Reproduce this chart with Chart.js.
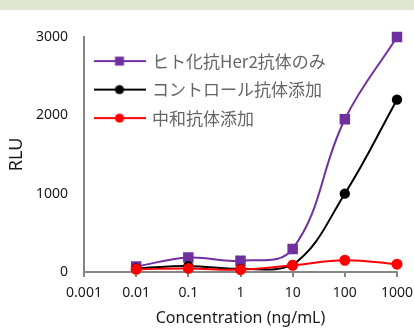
<!DOCTYPE html>
<html>
<head>
<meta charset="utf-8">
<script src="https://cdn.jsdelivr.net/npm/chart.js@4.4.1/dist/chart.umd.min.js"></script>
<style>
  html, body { margin: 0; padding: 0; background: #fff; }
</style>
</head>
<body>
<canvas id="chartjs" width="414" height="334"></canvas>
<script>
// concentrations (ng/mL) and RLU readings
const concentrations = [0.01, 0.1, 1, 10, 100, 1000];
const xTickValues = [0.001, 0.01, 0.1, 1, 10, 100, 1000];
const herOnly = [70, 185, 145, 295, 1950, 3000];
const controlAb = [45, 75, 40, 90, 1000, 2200];
const neutralAb = [35, 45, 30, 85, 150, 100];
const seriesNames = ['ヒト化抗Her2抗体のみ', 'コントロール抗体添加', '中和抗体添加'];

const purple = '#7030a0';
const axisGray = '#868686';

// legend icon: line with the marker in the middle (like Excel)
function legendIcon(color, shape) {
  const c = document.createElement('canvas');
  c.width = 52;
  c.height = 12;
  const g = c.getContext('2d');
  g.strokeStyle = color;
  g.lineWidth = 2;
  g.beginPath();
  g.moveTo(0, 6);
  g.lineTo(52, 6);
  g.stroke();
  g.fillStyle = color;
  if (shape === 'rect') {
    g.fillRect(21.5, 1.5, 9, 9);
  } else {
    g.beginPath();
    g.arc(26, 6, 4.6, 0, Math.PI * 2);
    g.fill();
  }
  return c;
}

const legendIcons = [
  legendIcon(purple, 'rect'),
  legendIcon('#000', 'circle'),
  legendIcon('#ff0000', 'circle')
];

const topBand = {
  id: 'topBand',
  beforeDraw(chart) {
    const c = chart.ctx;
    c.save();
    c.fillStyle = '#dfe7d2';
    c.fillRect(0, 0, chart.width, 10);
    c.restore();
  }
};

const ctx = document.querySelector('#chartjs');

const myChart = new Chart(ctx, {
  type: 'line',
  data: {
    labels: concentrations,
    datasets: [
      {
        label: seriesNames[0],
        data: herOnly,
        borderColor: purple,
        backgroundColor: purple,
        pointStyle: 'rect',
        pointRadius: 6,
        borderWidth: 2,
        tension: 0.4,
        clip: false,
        order: 3
      },
      {
        label: seriesNames[1],
        data: controlAb,
        borderColor: '#000',
        backgroundColor: '#000',
        pointStyle: 'circle',
        pointRadius: 4.2,
        borderWidth: 2,
        tension: 0.4,
        clip: false,
        order: 2
      },
      {
        label: seriesNames[2],
        data: neutralAb,
        borderColor: '#ff0000',
        backgroundColor: '#ff0000',
        pointStyle: 'circle',
        pointRadius: 4.5,
        borderWidth: 2,
        tension: 0.4,
        clip: false,
        order: 1
      }
    ]
  },
  options: {
    responsive: false,
    animation: false,
    layout: { padding: { top: 37, right: 17, bottom: 0, left: 0 } },
    scales: {
      x: {
        type: 'logarithmic',
        min: 0.001,
        max: 1000,
        afterBuildTicks: (s) => { s.ticks = xTickValues.map(v => ({ value: v })); },
        afterFit: (s) => {
          s.height = 62;
          s.paddingLeft = 0;
          s.paddingRight = 0;
        },
        grid: { drawOnChartArea: false, drawTicks: true, tickLength: 5, color: axisGray, lineWidth: 2 },
        border: { color: axisGray, width: 2 },
        ticks: {
          autoSkip: false,
          maxRotation: 0,
          padding: 8,
          color: '#1a1a1a',
          font: { family: 'Noto Sans', size: 14 },
          callback: (v) => String(v)
        },
        title: {
          display: true,
          text: 'Concentration (ng/mL)',
          color: '#1a1a1a',
          font: { family: 'Noto Sans', size: 16 },
          padding: { top: 0, bottom: 6 }
        }
      },
      y: {
        min: 0,
        max: 3000,
        afterFit: (s) => { s.width = 84; },
        grid: { display: false, drawTicks: false },
        border: { color: axisGray, width: 2 },
        ticks: {
          stepSize: 1000,
          padding: 16,
          color: '#1a1a1a',
          font: { family: 'Noto Sans', size: 14 },
          callback: (v) => String(v)
        },
        title: {
          display: true,
          text: 'RLU',
          color: '#1a1a1a',
          font: { family: 'Noto Sans', size: 18 },
          padding: { top: 6, bottom: 0 }
        }
      }
    },
    plugins: {
      tooltip: { enabled: false },
      legend: {
        position: 'chartArea',
        align: 'start',
        // empty title only pushes the legend rows down inside the plot
        title: { display: true, text: '', font: { size: 3 }, padding: { top: 37.5, bottom: 0 } },
        labels: {
          usePointStyle: true,
          pointStyleWidth: 48,
          boxHeight: 17,
          padding: 11.5,
          color: '#000',
          font: { family: 'Noto Sans CJK JP', size: 17 },
          generateLabels: (chart) => chart.data.datasets.map((ds, i) => ({
            text: ds.label,
            pointStyle: legendIcons[i],
            fillStyle: ds.borderColor,
            strokeStyle: ds.borderColor,
            lineWidth: 0,
            hidden: false,
            datasetIndex: i
          }))
        }
      }
    }
  },
  plugins: [topBand]
});
</script>
</body>
</html>
